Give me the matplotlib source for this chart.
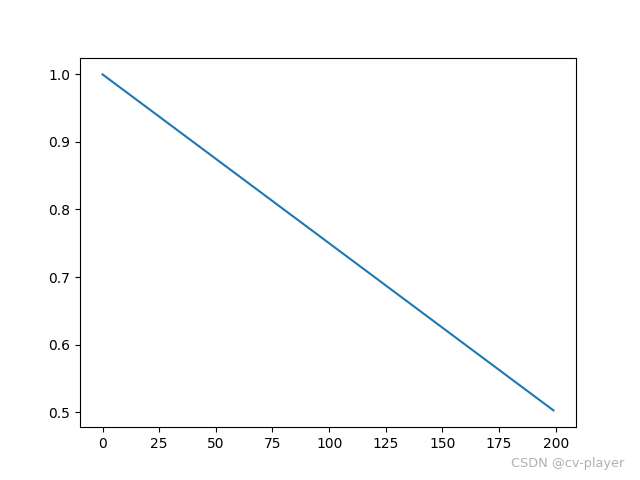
import matplotlib
matplotlib.use('Agg')
import matplotlib.pyplot as plt

# learning-rate factor per epoch (straight line)
epochs = [0, 199]
lr_factor = [1.0, 0.5025]

fig, ax = plt.subplots(figsize=(6.4, 4.8), dpi=100)
ax.plot(epochs, lr_factor)

fig.text(0.976, 0.02, 'CSDN @cv-player', ha='right', va='bottom',
         fontsize=9.3, color='#b0b0b0')

plt.savefig('out.png')
